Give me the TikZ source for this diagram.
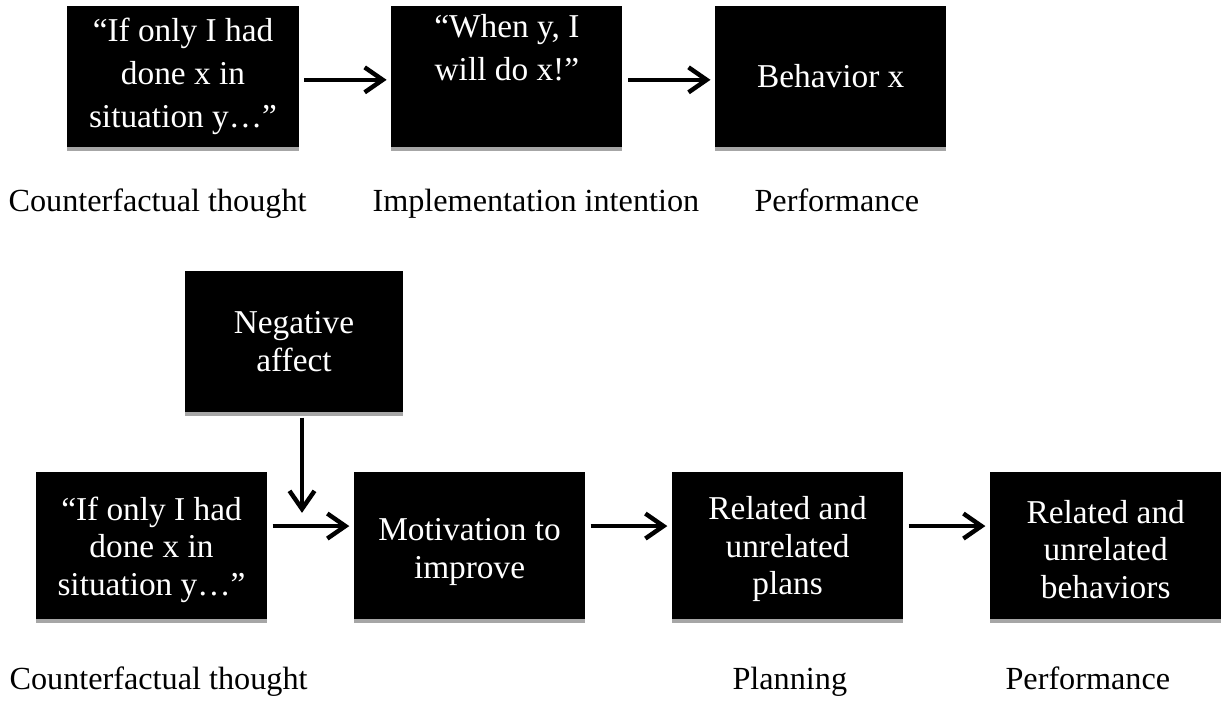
\documentclass[tikz,border=0pt]{standalone}
\usepackage{fontspec}
\setmainfont{Liberation Serif}
\usepackage{tikz}
\usetikzlibrary{positioning,arrows.meta,shadows}
\definecolor{shadowgray}{HTML}{A6A6A6}

\begin{document}
\begin{tikzpicture}[%
    x=0.36pt, y=-0.36pt,
    >={Straight Barb[length=6.5pt,width=9pt]},
    on grid,
    box/.style={fill=black, text=white, align=center, inner sep=0pt,
        minimum width=83.2pt, minimum height=50.8pt,
        general shadow={fill=shadowgray, shadow yshift=-1.5pt},
        font=\fontsize{12}{15.5}\selectfont},
    lowbox/.style={box, minimum height=52.9pt,
        font=\fontsize{12}{13.5}\selectfont},
    caption/.style={anchor=base west, inner sep=0pt,
        font=\fontsize{11.6}{14}\selectfont},
    every edge/.style={draw, line width=1.6pt, shorten <=1.8pt, shorten >=1.5pt}
    ]
    \useasboundingbox (0,0) rectangle (1221,700);

    % top row
    \node[box] (cf1) at (183,76.5) {“If only I had\\done x in\\situation y…”};
    \node[box] (ii) [right=116.6pt of cf1] {“When y, I\\will do x!”\\[5.5pt]\mbox{}};
    \node[box] (beh) [right=116.6pt of ii] {Behavior x};

    \path[->] ([yshift=-1.2pt]cf1.east) edge ([yshift=-1.2pt]ii.west);
    \path[->] ([yshift=-1.2pt]ii.east) edge ([yshift=-1.2pt]beh.west);

    \node[caption] (cfl1) at (8,211) {Counterfactual thought};
    \node[caption] (iil) at (372,211) {Implementation intention};
    \node[caption] (perfl1) at (754,211) {Performance};

    % bottom row
    \node[lowbox, minimum width=78.5pt, minimum height=50.8pt] (neg) at (294,341.5) {Negative\\affect};

    \node[lowbox] (cf2) at (151.5,545.5) {\rule{0pt}{11.5pt}“If only I had\\done x in\\situation y…”};
    \node[lowbox] (mot) [right=114.5pt of cf2] {\rule{0pt}{12.5pt}Motivation to\\improve};
    \node[lowbox] (plans) [right=114.5pt of mot] {\rule{0pt}{11pt}Related and\\unrelated\\plans};
    \node[lowbox] (behs) [right=114.5pt of plans] {\rule{0pt}{11pt}Related and\\unrelated\\behaviors};

    \path[->] ([yshift=7pt]cf2.east) edge ([yshift=7pt]mot.west);
    \path[->] ([yshift=7pt]mot.east) edge ([yshift=7pt]plans.west);
    \path[->] ([yshift=7pt]plans.east) edge ([yshift=7pt]behs.west);

    \coordinate (join) at (302,517);
    \path[->, shorten >=0pt] (neg.south -| join) edge (join);

    \node[caption] (cfl2) at (9,689) {Counterfactual thought};
    \node[caption] (planl) at (732,689) {Planning};
    \node[caption] (perfl2) at (1005,689) {Performance};

\end{tikzpicture}
\end{document}
